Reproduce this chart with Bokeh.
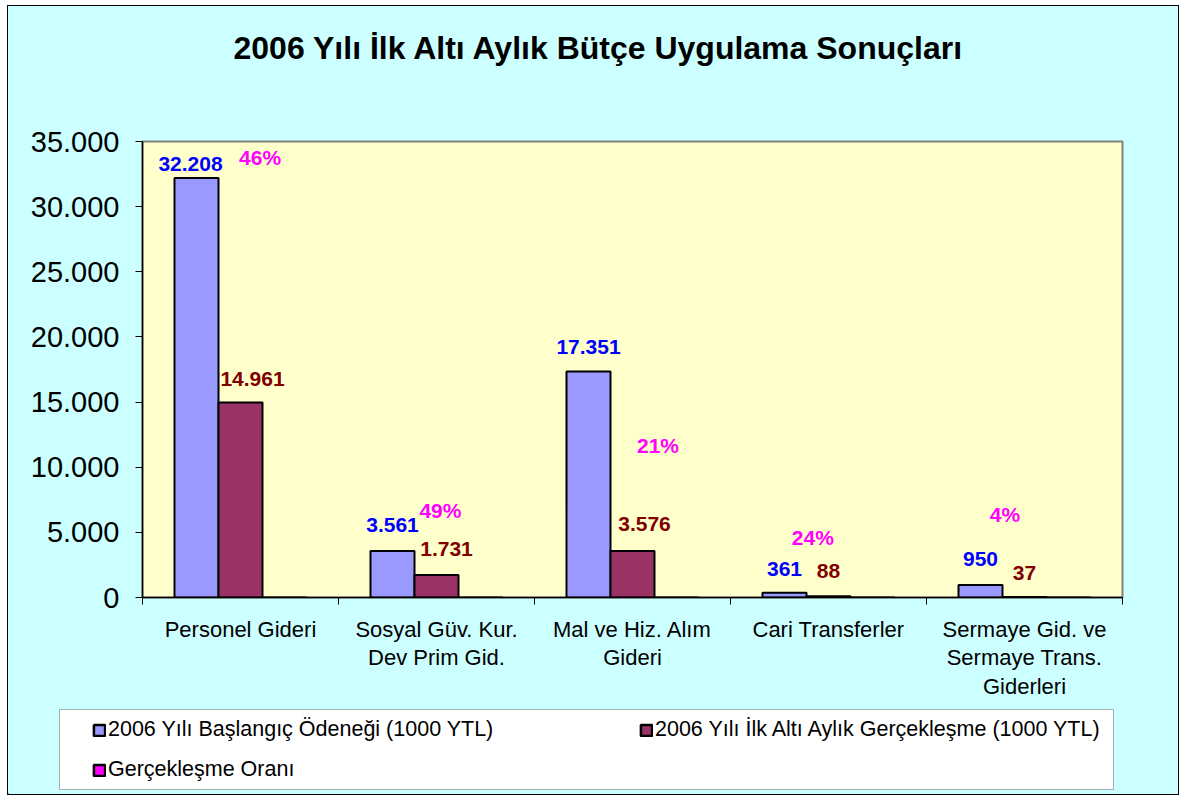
from bokeh.plotting import figure
from bokeh.layouts import column, row
from bokeh.models import (Range1d, FixedTicker, Legend, LegendItem, ColumnDataSource, Title,
                          BoxAnnotation)
from bokeh.core.properties import value
from bokeh.embed import file_html
from bokeh.resources import INLINE

# ---------------- data ----------------
categories = ["Personel Gideri", "Sosyal Güv. Kur.\nDev Prim Gid.", "Mal ve Hiz. Alım\nGideri",
              "Cari Transferler", "Sermaye Gid. ve\nSermaye Trans.\nGiderleri"]
baslangic = [32208, 3561, 17351, 361, 950]
gerceklesme = [14961, 1731, 3576, 88, 37]
oran = [0.46, 0.49, 0.21, 0.24, 0.04]
baslangic_labels = ["32.208", "3.561", "17.351", "361", "950"]
gerceklesme_labels = ["14.961", "1.731", "3.576", "88", "37"]
oran_labels = ["46%", "49%", "21%", "24%", "4%"]
series_names = ["2006 Yılı Başlangıç Ödeneği (1000 YTL)",
                "2006 Yılı İlk Altı Aylık Gerçekleşme (1000 YTL)",
                "Gerçekleşme Oranı"]
series_colors = ["#9999FF", "#993366", "#FF00FF"]
y_ticks = [0, 5000, 10000, 15000, 20000, 25000, 30000, 35000]
y_tick_labels = ["0", "5.000", "10.000", "15.000", "20.000", "25.000", "30.000", "35.000"]
title_text = "2006 Yılı İlk Altı Aylık Bütçe Uygulama Sonuçları"

# manual placement of the labels (as dragged in the source chart)
oran_label_dx = [0.10, 0.02, 0.13, -0.08, -0.10]
oran_label_y = [33800, 6700, 11700, 4600, 6400]
b_label_px = [-6, 0, 0, 0, 0]
b_label_py = [-7, -19, -17, -17, -19]
g_label_px = [12, 10, 12, 0, 0]
g_label_py = [-17, -19, -20, -18, -17]

# ---------------- layout ----------------
FONT = "Liberation Sans"
BG = "#CCFFFF"
BW = 44 / 196
n = len(categories)
centers = [i + 0.5 for i in range(n)]
W = 1170

src = ColumnDataSource(dict(
    xb=[c - BW for c in centers], xg=centers, xo=[c + BW for c in centers],
    b=baslangic, g=gerceklesme, o=oran,
    bl=baslangic_labels, gl=gerceklesme_labels,
    bdx=b_label_px, bdy=b_label_py, gdx=g_label_px, gdy=g_label_py,
    ol=oran_labels,
    xol=[c + d for c, d in zip(centers, oran_label_dx)], yol=oran_label_y,
))

p = figure(width=W, height=700, output_backend="svg", toolbar_location=None,
           x_range=Range1d(0, n), y_range=Range1d(0, 35000),
           min_border_left=134, min_border_right=56, min_border_top=135, min_border_bottom=109)
p.border_fill_color = BG
p.background_fill_color = "#FFFFCC"
p.outline_line_color = "#808080"
p.outline_line_width = 2
p.grid.visible = False

# real title (outermost) + spacer title next to the frame
p.title.text = title_text
p.title.text_font = FONT
p.title.text_font_size = "32px"
p.title.text_font_style = "bold"
p.title.text_color = "black"
p.title.align = "left"
p.title.offset = 91
p.title.standoff = 10
p.add_layout(Title(text=" ", text_font_size="1px", standoff=68), "above")

r1 = p.vbar(x="xb", top="b", width=BW, source=src, fill_color=series_colors[0], line_color="black", line_width=2)
r2 = p.vbar(x="xg", top="g", width=BW, source=src, fill_color=series_colors[1], line_color="black", line_width=2)
r3 = p.vbar(x="xo", top="o", width=BW, source=src, fill_color=series_colors[2], line_color="black", line_width=2)

common = dict(text_font=value(FONT), text_font_size="21px", text_font_style="bold", text_align="center")
p.text(x="xb", y="b", text="bl", source=src, text_color="#0000FF", text_baseline="bottom",
       x_offset="bdx", y_offset="bdy", **common)
p.text(x="xg", y="g", text="gl", source=src, text_color="#800000", text_baseline="bottom",
       x_offset="gdx", y_offset="gdy", **common)
p.text(x="xol", y="yol", text="ol", source=src, text_color="#FF00FF", text_baseline="middle", **common)

# y axis
ya = p.yaxis[0]
ya.ticker = FixedTicker(ticks=y_ticks)
ya.major_label_overrides = {t: l for t, l in zip(y_ticks, y_tick_labels)}
ya.major_label_text_font = FONT
ya.major_label_text_font_size = "29px"
ya.major_label_text_color = "black"
ya.axis_line_color = "black"
ya.axis_line_width = 1.5
ya.major_tick_line_color = "black"
ya.major_tick_out = 7
ya.major_tick_in = 0
ya.minor_tick_line_color = None
ya.major_label_standoff = 16

# x axis
xa = p.xaxis[0]
xa.ticker = FixedTicker(ticks=centers, minor_ticks=list(range(n + 1)))
xa.major_label_overrides = {c: l for c, l in zip(centers, categories)}
xa.major_label_text_font = FONT
xa.major_label_text_font_size = "22px"
xa.major_label_text_color = "black"
xa.major_label_text_line_height = 1.15
xa.major_tick_line_color = None
xa.minor_tick_line_color = "black"
xa.minor_tick_out = 7
xa.minor_tick_in = 0
xa.axis_line_color = "black"
xa.axis_line_width = 1.5
xa.major_label_standoff = 12

# ---------------- legend strip ----------------
LH = 88
p2 = figure(width=W, height=LH, output_backend="svg", toolbar_location=None,
            x_range=Range1d(0, W), y_range=Range1d(0, LH),
            x_axis_location=None, y_axis_location=None,
            min_border=0, min_border_left=0, min_border_right=0, min_border_top=0, min_border_bottom=0)
p2.border_fill_color = BG
p2.background_fill_color = BG
p2.outline_line_color = None
p2.grid.visible = False
p2.add_layout(BoxAnnotation(left=51, right=1105, bottom=5, top=85, fill_color="white", fill_alpha=1,
                            line_color="black", line_width=1, level="underlay"))
dummy = ColumnDataSource(dict(x=[-1000], top=[0]))
lr = [p2.vbar(x="x", top="top", width=1, source=dummy, fill_color=c, line_color="black", line_width=2.5)
      for c in series_colors]
legend = Legend(items=[LegendItem(label=s, renderers=[r]) for s, r in zip(series_names, lr)],
                location=(84, 12), orientation="horizontal", ncols=2,
                label_text_font=FONT, label_text_font_size="21.5px", label_text_color="black",
                glyph_width=14, glyph_height=14, label_standoff=2,
                label_width=516, label_height=20, spacing=15, padding=0, margin=0,
                border_line_color=None, background_fill_alpha=0)
p2.add_layout(legend, "center")

layout = column(p, row(p2), spacing=0)
layout.styles = {"border": "1px solid black", "margin-left": "7px", "margin-top": "5px",
                 "background-color": BG}

open("out.html", "w").write(file_html(layout, INLINE))
